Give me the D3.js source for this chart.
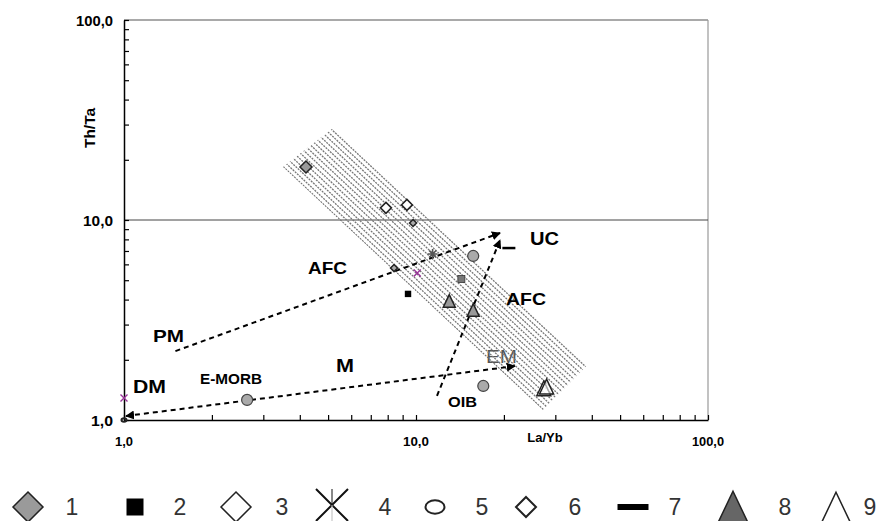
<!DOCTYPE html>
<html><head><meta charset="utf-8">
<script src="https://d3js.org/d3.v7.min.js"></script>
<style>body{margin:0;background:#fff}svg{display:block}text{font-family:"Liberation Sans",Arial,sans-serif}</style>
</head><body><svg id="c" width="881" height="521"></svg>
<script>
// ---------- data ----------
const xLabeledTicks = [1, 10, 100];
const xTickLabels = ["1,0", "10,0", "100,0"];
const yTickLabels = ["1,0", "10,0", "100,0"];
const xTitle = "La/Yb";
const yTitle = "Th/Ta";
const bandCorners = [[3.50, 18.4], [5.20, 28.8], [38.5, 1.88], [27.2, 1.12]];
const s1GrayDiamond = [[4.2, 18.4]];
const s2BlackSquare = [[9.39, 4.27]];
const s3OpenDiamond = [[7.89, 11.5], [9.31, 11.9]];
const s4Star = [[11.4, 6.76]];
const s5Circle = [[1.0, 1.0]];
const grayCircles = [[15.7, 6.61], [17.0, 1.48], [2.64, 1.26]];
const s6SmallDiamond = [[9.77, 9.66], [8.41, 5.75]];
const s7Dash = [[20.8, 7.24]];
const s8GrayTriangle = [[13.0, 3.94], [15.7, 3.55]];
const s9OpenTriangle = [[27.4, 1.44], [28.0, 1.47]];
const smallGraySquare = [[14.3, 5.07]];
const purpleCross = [[1.0, 1.29], [10.1, 5.43]];
const arrowPM = [[1.50, 2.21], [19.4, 8.61]];
const arrowDMEM = [[1.016, 1.047], [21.8, 1.86]];
const arrowOIB = [[11.8, 1.32], [19.4, 7.94]];
const legendTypes = ["d1", "sq", "d3", "star4", "ell", "d6", "dash", "t8", "t9"];
const legendLabels = ["1", "2", "3", "4", "5", "6", "7", "8", "9"];

// ---------- layout ----------
const svg = d3.select("#c");
const x = d3.scaleLog().domain([1, 100]).range([124, 708]);
const y = d3.scaleLog().domain([1, 100]).range([420, 20]);

const defs = svg.append("defs");
defs.append("marker").attr("id", "ah").attr("viewBox", "0 0 10 10").attr("refX", 9).attr("refY", 5)
  .attr("markerWidth", 4.5).attr("markerHeight", 4.5).attr("orient", "auto-start-reverse")
  .append("path").attr("d", "M0,0L10,5L0,10z").attr("fill", "#000");

// frame lines
svg.append("line").attr("x1", x(1)).attr("x2", x(100)).attr("y1", y(100)).attr("y2", y(100)).attr("stroke", "#555").attr("stroke-width", 1.2);
svg.append("line").attr("x1", x(100)).attr("x2", x(100)).attr("y1", y(100)).attr("y2", y(1)).attr("stroke", "#999").attr("stroke-width", 1.2);
svg.append("line").attr("x1", x(1)).attr("x2", x(100)).attr("y1", y(10)).attr("y2", y(10)).attr("stroke", "#444").attr("stroke-width", 1);

// EM label under hatch
svg.append("text").attr("x", 486).attr("y", 363).attr("font-size", 19).attr("fill", "#555")
  .attr("textLength", 31).attr("lengthAdjust", "spacingAndGlyphs").text("EM");

// band with hatching
const bp = bandCorners.map(d => [x(d[0]), y(d[1])]);
defs.append("clipPath").attr("id", "bandClip").append("path").attr("d", "M" + bp.join("L") + "Z");
const dx = bp[2][0] - bp[1][0], dy = bp[2][1] - bp[1][1], L = Math.hypot(dx, dy);
const ux = dx / L, uy = dy / L, nx = -uy, ny = ux;
const proj = bp.map(p => p[0] * nx + p[1] * ny);
const pmin = d3.min(proj), pmax = d3.max(proj);
const cx0 = d3.mean(bp, p => p[0]), cy0 = d3.mean(bp, p => p[1]);
const c0 = cx0 * nx + cy0 * ny;
const hatch = svg.append("g").attr("clip-path", "url(#bandClip)");
const offs = d3.range(pmin + 2, pmax, 4.3);
hatch.selectAll("line").data(offs).join("line")
  .attr("x1", k => cx0 + nx * (k - c0) - ux * 400).attr("y1", k => cy0 + ny * (k - c0) - uy * 400)
  .attr("x2", k => cx0 + nx * (k - c0) + ux * 400).attr("y2", k => cy0 + ny * (k - c0) + uy * 400)
  .attr("stroke", "#777").attr("stroke-width", 1.3).attr("stroke-dasharray", "2,1");

// axes
const yAxis = d3.axisLeft(y).tickValues([1,2,3,4,5,6,7,8,9,10,20,30,40,50,60,70,80,90,100])
  .tickSizeInner(-5).tickSizeOuter(0).tickFormat("");
svg.append("g").attr("transform", `translate(${x(1)},0)`).call(yAxis)
  .call(g => g.select(".domain").attr("stroke", "#000").attr("stroke-width", 1.5))
  .call(g => g.selectAll(".tick line").attr("stroke", "#000").attr("stroke-width", 1.2));
const xAxis = d3.axisBottom(x).tickValues([1,2,3,4,5,6,7,8,9,10,20,30,40,50,60,70,80,90,100])
  .tickSizeInner(-5).tickSizeOuter(0).tickFormat("");
svg.append("g").attr("transform", `translate(0,${y(1)})`).call(xAxis)
  .call(g => g.select(".domain").attr("stroke", "#000").attr("stroke-width", 1.5))
  .call(g => g.selectAll(".tick line").attr("stroke", "#000").attr("stroke-width", 1.2));

// tick labels
const yLabW = [22, 30, 37];
svg.selectAll(".ylab").data(xLabeledTicks).join("text").attr("class", "ylab")
  .attr("x", 113).attr("y", d => y(d) + 6).attr("text-anchor", "end")
  .attr("font-size", 14).attr("font-weight", "bold")
  .attr("textLength", (d, i) => yLabW[i]).attr("lengthAdjust", "spacingAndGlyphs")
  .text((d, i) => yTickLabels[i]);
svg.selectAll(".xlab").data(xLabeledTicks).join("text").attr("class", "xlab")
  .attr("x", d => x(d)).attr("y", 446).attr("text-anchor", "middle")
  .attr("font-size", 12).attr("font-weight", "bold")
  .attr("textLength", (d, i) => [18, 26, 32][i]).attr("lengthAdjust", "spacingAndGlyphs")
  .text((d, i) => xTickLabels[i]);
svg.append("text").attr("x", 545).attr("y", 442).attr("text-anchor", "middle")
  .attr("font-size", 13).attr("font-weight", "bold").text(xTitle);
svg.append("text").attr("transform", "translate(95,128) rotate(-90)").attr("text-anchor", "middle")
  .attr("font-size", 14).attr("font-weight", "bold")
  .attr("textLength", 40).attr("lengthAdjust", "spacingAndGlyphs").text(yTitle);

// arrows
const line = d3.line().x(d => x(d[0])).y(d => y(d[1]));
[[arrowPM, false], [arrowDMEM, true], [arrowOIB, false]].forEach(([a, both]) => {
  svg.append("path").attr("d", line(a)).attr("fill", "none").attr("stroke", "#000")
    .attr("stroke-width", 2).attr("stroke-dasharray", "5,4")
    .attr("marker-end", "url(#ah)").attr("marker-start", both ? "url(#ah)" : null);
});

// symbol drawing
function sym(g, type, cx, cy, s) {
  if (type === "d1" || type === "d3" || type === "d6" || type === "d6g") {
    const fill = type === "d1" ? "#9a9a9a" : (type === "d6g" ? "#aaa" : "#fff");
    g.append("path").attr("d", `M${cx},${cy - s}L${cx + s},${cy}L${cx},${cy + s}L${cx - s},${cy}Z`)
      .attr("fill", fill).attr("stroke", "#222").attr("stroke-width", type === "d6" ? 2 : 1.5);
  } else if (type === "sq" || type === "sqg") {
    g.append("rect").attr("x", cx - s).attr("y", cy - s).attr("width", 2 * s).attr("height", 2 * s)
      .attr("fill", type === "sq" ? "#000" : "#777").attr("stroke", type === "sq" ? "none" : "#333").attr("stroke-width", 0.8);
  } else if (type === "star4") {
    g.append("path").attr("d", `M${cx - s},${cy - s}L${cx + s},${cy + s}M${cx + s},${cy - s}L${cx - s},${cy + s}`)
      .attr("stroke", "#111").attr("stroke-width", 2);
    g.append("path").attr("d", `M${cx},${cy - s}L${cx},${cy}`).attr("stroke", "#111").attr("stroke-width", 1);
    g.append("path").attr("d", `M${cx},${cy}L${cx},${cy + s}`).attr("stroke", "#bbb").attr("stroke-width", 1);
  } else if (type === "starg") {
    g.append("path").attr("d", `M${cx - s},${cy}L${cx + s},${cy}M${cx},${cy - s}L${cx},${cy + s}M${cx - s * .7},${cy - s * .7}L${cx + s * .7},${cy + s * .7}M${cx + s * .7},${cy - s * .7}L${cx - s * .7},${cy + s * .7}`)
      .attr("stroke", "#555").attr("stroke-width", 1.6);
  } else if (type === "ell") {
    g.append("ellipse").attr("cx", cx).attr("cy", cy).attr("rx", s).attr("ry", s * 0.7)
      .attr("fill", "none").attr("stroke", "#222").attr("stroke-width", 2);
  } else if (type === "circg") {
    g.append("circle").attr("cx", cx).attr("cy", cy).attr("r", s).attr("fill", "#aaa").attr("stroke", "#444").attr("stroke-width", 1.2);
  } else if (type === "dash") {
    g.append("line").attr("x1", cx - s).attr("x2", cx + s).attr("y1", cy).attr("y2", cy)
      .attr("stroke", "#000").attr("stroke-width", s / 2.6);
  } else if (type === "t8" || type === "t8p" || type === "t9") {
    const h = s * 2.1;
    g.append("path").attr("d", `M${cx},${cy - h / 2}L${cx + s},${cy + h / 2}L${cx - s},${cy + h / 2}Z`)
      .attr("fill", type === "t8" ? "#666" : (type === "t8p" ? "#999" : "#fff")).attr("fill-opacity", type === "t9" ? 0.6 : 1)
      .attr("stroke", "#222").attr("stroke-width", 1.5);
  } else if (type === "xp") {
    g.append("path").attr("d", `M${cx - s},${cy - s}L${cx + s},${cy + s}M${cx + s},${cy - s}L${cx - s},${cy + s}`)
      .attr("stroke", "#993399").attr("stroke-width", 1.4);
  }
}

const pts = svg.append("g");
const P = (arr, type, s) => arr.forEach(d => sym(pts, type, x(d[0]), y(d[1]), s));
P(s1GrayDiamond, "d1", 6);
P(s3OpenDiamond, "d3", 5.5);
P(s6SmallDiamond, "d6g", 3.5);
P(s4Star, "starg", 5);
P(s2BlackSquare, "sq", 3.2);
P(smallGraySquare, "sqg", 3.5);
P(grayCircles, "circg", 5.5);
P(s8GrayTriangle, "t8p", 6);
P(s9OpenTriangle, "t9", 7);
P(s7Dash, "dash", 6.5);
P(purpleCross, "xp", 3.5);
P(s5Circle, "ell", 2.5);

// annotations
const ann = [
  ["UC", 530, 245, 18, 29, "bold"], ["AFC", 308, 274, 17, 39, "bold"], ["AFC", 506, 305, 17, 40, "bold"],
  ["PM", 153, 342, 17, 31, "bold"], ["DM", 133, 393, 19, 33, "bold"], ["M", 336, 372, 18, 18, "bold"],
  ["E-MORB", 200, 384, 15, 62, "bold"], ["OIB", 448, 407, 14, 29, "bold"]
];
ann.forEach(([t, ax, ay, fs, w, fw]) => svg.append("text").attr("x", ax).attr("y", ay)
  .attr("font-size", fs).attr("font-weight", fw).attr("fill", "#000")
  .attr("textLength", w).attr("lengthAdjust", "spacingAndGlyphs").text(t));

// legend
const lx = [28, 135, 236, 332, 435, 526, 633, 733, 836];
const tx = [72, 180, 282, 385, 482, 575, 675, 785, 870];
const ls = [15, 8.5, 15, 16, 9.5, 10, 15.5, 15, 14];
const lg = svg.append("g");
legendTypes.forEach((t, i) => sym(lg, t, lx[i], t === "star4" ? 505 : 507, ls[i]));
lg.selectAll("text").data(legendLabels).join("text")
  .attr("x", (d, i) => tx[i]).attr("y", 515).attr("text-anchor", "middle")
  .attr("font-size", 23).attr("fill", "#333").text(d => d);
</script></body></html>
